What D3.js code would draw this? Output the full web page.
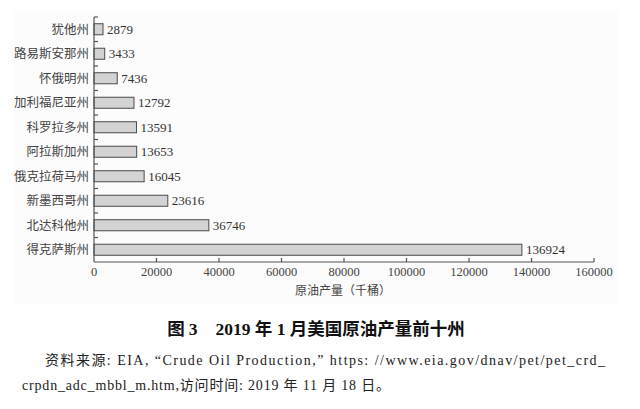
<!DOCTYPE html>
<html><head><meta charset="utf-8">
<script src="https://cdn.jsdelivr.net/npm/d3@7"></script>
<style>body{margin:0;background:#fff}svg{display:block}</style>
</head><body>
<svg id="c" width="640" height="409"></svg>
<script>
const states = ["犹他州","路易斯安那州","怀俄明州","加利福尼亚州","科罗拉多州","阿拉斯加州","俄克拉荷马州","新墨西哥州","北达科他州","得克萨斯州"];
const production = [2879,3433,7436,12792,13591,13653,16045,23616,36746,136924];
const xTicks = [0,20000,40000,60000,80000,100000,120000,140000,160000];
const axisTitle = "原油产量（千桶）";
const titleParts = ["图 3", "2019 年 1 月美国原油产量前十州"];
const sourceLine1 = "资料来源: EIA, “Crude Oil Production,” https: //www.eia.gov/dnav/pet/pet_crd_";
const sourceLine2 = "crpdn_adc_mbbl_m.htm,访问时间: 2019 年 11 月 18 日。";

const svg = d3.select("#c");
const serif = "'Liberation Serif','DejaVu Serif',serif";
const cjk = "'Noto Sans CJK SC','Noto Sans CJK JP',sans-serif";
const mix = "'Liberation Serif','Noto Sans CJK SC',serif";
const axisColor = "#555";

svg.append("rect").attr("x",14).attr("y",11).attr("width",604).attr("height",293).attr("fill","#fcfcfc");

const L = 94, R = 594, T = 17, B = 262;
const x = d3.scaleLinear().domain([0,160000]).range([L,R]);
const y = d3.scaleBand().domain(states).range([T,B]).paddingInner(0.55).paddingOuter(0.275);

// bars
svg.append("g").selectAll("rect").data(states).join("rect")
  .attr("x", x(0)).attr("y", d=>y(d)).attr("height", y.bandwidth())
  .attr("width", (d,i)=>x(production[i])-x(0))
  .attr("fill","#d3d3d3").attr("stroke","#4a4a4a").attr("stroke-width",1);

// value labels
svg.append("g").selectAll("text").data(states).join("text")
  .attr("x",(d,i)=>x(production[i])+4).attr("y",d=>y(d)+y.bandwidth()/2)
  .attr("dy","0.35em").attr("font-family",serif).attr("font-size",13).attr("fill","#333")
  .text((d,i)=>production[i]);

// y axis
const yAxis = svg.append("g").attr("transform",`translate(${L},0)`);
yAxis.append("line").attr("x1",0).attr("x2",0).attr("y1",T).attr("y2",B).attr("stroke",axisColor).attr("stroke-width",1.2);
const step = y.step();
yAxis.selectAll("line.tk").data(d3.range(states.length)).join("line").attr("class","tk")
  .attr("x1",0).attr("x2",4).attr("y1",i=>T+i*step).attr("y2",i=>T+i*step)
  .attr("stroke",axisColor).attr("stroke-width",1.2);
yAxis.selectAll("text").data(states).join("text")
  .attr("x",-5).attr("y",d=>y(d)+y.bandwidth()/2).attr("dy","0.36em")
  .attr("text-anchor","end").attr("font-family",cjk).attr("font-size",12.5).attr("fill","#444")
  .text(d=>d);

// x axis
const xAxis = svg.append("g").attr("transform",`translate(0,${B})`);
xAxis.append("line").attr("x1",L).attr("x2",R).attr("stroke",axisColor).attr("stroke-width",1.2);
xAxis.selectAll("line.tk").data(xTicks.slice(1)).join("line").attr("class","tk")
  .attr("x1",d=>x(d)).attr("x2",d=>x(d)).attr("y1",0).attr("y2",-4)
  .attr("stroke",axisColor).attr("stroke-width",1.2);
xAxis.selectAll("text").data(xTicks).join("text")
  .attr("x",d=>x(d)).attr("y",14).attr("text-anchor","middle")
  .attr("font-family",serif).attr("font-size",12.5).attr("fill","#444").text(d=>d);
svg.append("text").attr("x",343).attr("y",295).attr("text-anchor","middle")
  .attr("font-family",cjk).attr("font-size",12).attr("fill","#444").text(axisTitle);

// title
const t = svg.append("text").attr("x",316).attr("y",335).attr("text-anchor","middle")
  .attr("font-family",mix).attr("font-size",17.5).attr("font-weight","bold").attr("fill","#111");
t.append("tspan").attr("font-family",cjk).text("图 ");
t.append("tspan").text("3");
t.append("tspan").attr("dx",18).text(titleParts[1]);

// source
svg.append("text").attr("x",45).attr("y",365).attr("textLength",560).attr("lengthAdjust","spacing")
  .attr("font-family",mix).attr("font-size",14).attr("fill","#222").text(sourceLine1);
svg.append("text").attr("x",22).attr("y",390).attr("textLength",368).attr("lengthAdjust","spacing")
  .attr("font-family",mix).attr("font-size",14).attr("fill","#222").text(sourceLine2);
</script>
</body></html>
